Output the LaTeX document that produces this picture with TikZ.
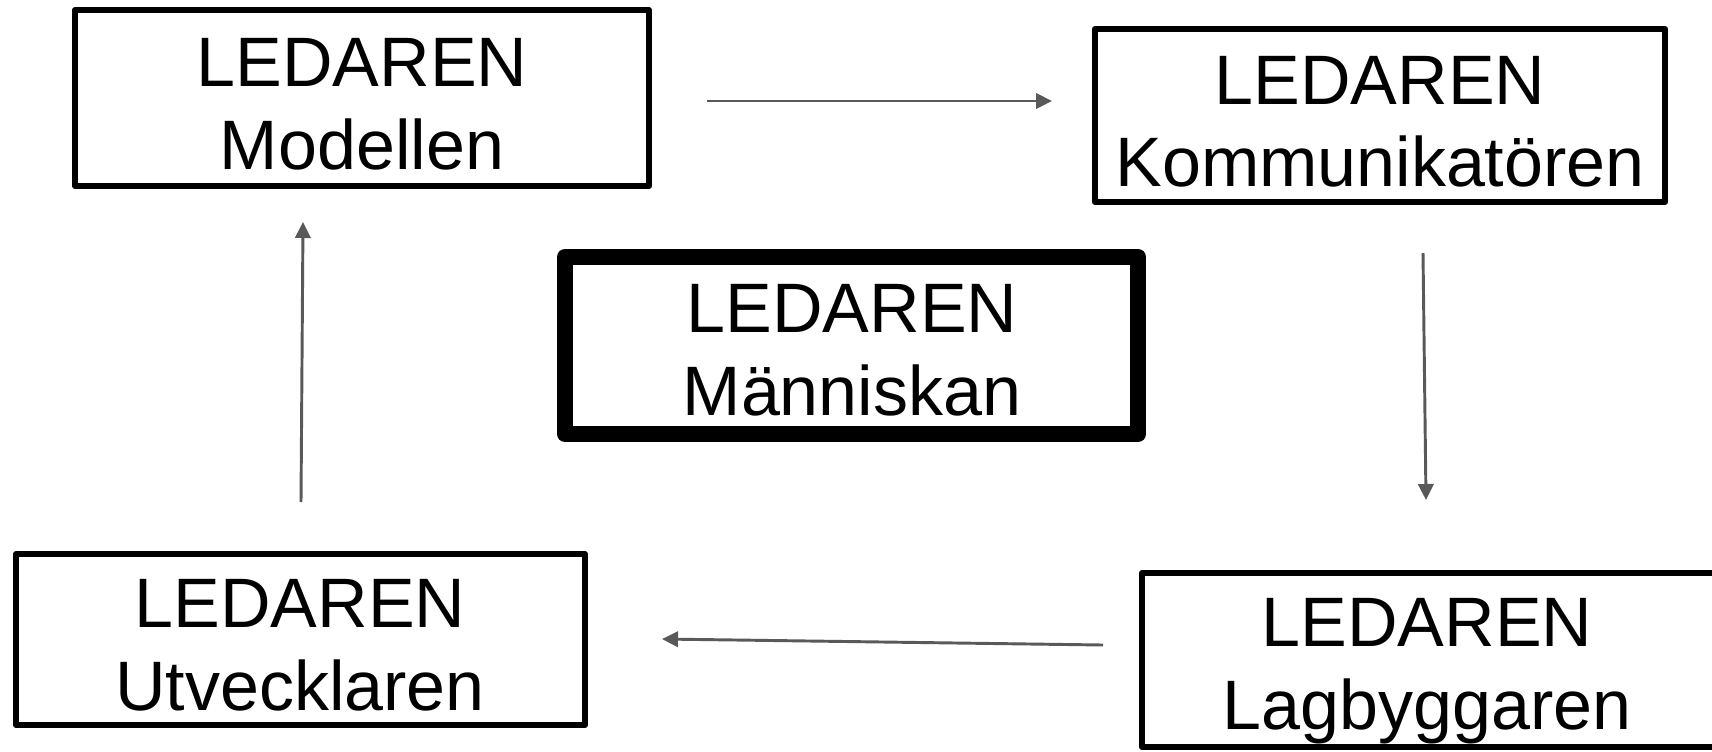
\documentclass[tikz,border=0pt]{standalone}
\usepackage{fontspec}
\setmainfont{Liberation Sans}
\usetikzlibrary{arrows.meta,fit}
\definecolor{arrowgray}{HTML}{595959}
\tikzset{
  box/.style={draw=black, line width=4.5pt, line join=round, inner sep=0pt, fill=white},
  centerbox/.style={draw=black, line width=12pt, line join=round, inner sep=0pt, fill=white},
  lbl/.style={anchor=base, inner sep=0pt, font=\fontsize{52.5}{62}\selectfont},
  conn/.style={draw=arrowgray, line width=2.2pt, -{Triangle[length=12pt,width=11.5pt]}}
}
\begin{document}
\begin{tikzpicture}[x=0.75pt,y=-0.75pt]
\useasboundingbox (0,0) rectangle (1712,751);
% boxes
\node[box, fit={(75,10) (649,186)}] (modellen) {};
\node[box, fit={(1095,29) (1665,202)}] (komm) {};
\node[centerbox, fit={(565,257) (1138,434)}] (manniskan) {};
\node[box, fit={(16,554) (585,725)}] (utveck) {};
\node[box, fit={(1142,573) (1725,747)}] (lagbygg) {};
% texts
\node[lbl] (t1a) at (362,86) {LEDAREN};
\node[lbl] (t1b) at (362,169) {Modellen};
\node[lbl] (t2a) at (1380,104) {LEDAREN};
\node[lbl] (t2b) at (1380,186) {Kommunikatören};
\node[lbl] (t3a) at (852,332) {LEDAREN};
\node[lbl] (t3b) at (852,415) {Människan};
\node[lbl] (t4a) at (300,627) {LEDAREN};
\node[lbl] (t4b) at (300,710) {Utvecklaren};
\node[lbl] (t5a) at (1427,646) {LEDAREN};
\node[lbl] (t5b) at (1427,729) {Lagbyggaren};
% arrow end points
\coordinate (a1s) at (707,101);
\coordinate (a1e) at (1052,101);
\coordinate (a2s) at (1423,253);
\coordinate (a2e) at (1426,500);
\coordinate (a3s) at (1103,645);
\coordinate (a3e) at (662,639);
\coordinate (a4s) at (301,502);
\coordinate (a4e) at (303,222);
\draw[conn] (a1s) -- (a1e);
\draw[conn] (a2s) -- (a2e);
\draw[conn] (a3s) -- (a3e);
\draw[conn] (a4s) -- (a4e);
\end{tikzpicture}
\end{document}
